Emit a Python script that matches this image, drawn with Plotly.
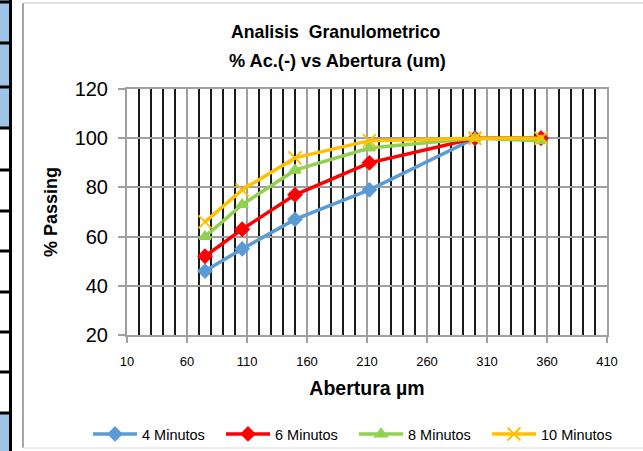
import plotly.graph_objects as go

# ---- data ----
abertura = [75, 106, 150, 212, 300, 355]
min4 = [46, 55, 67, 79, 100, 100]
min6 = [52, 63, 77, 90, 100, 100]
min8 = [60, 73, 87, 96, 100, 99]
min10 = [66, 79, 92, 99, 100, 100]
series_names = ["4 Minutos", "6 Minutos", "8 Minutos", "10 Minutos"]
colors = ["#5b9bd5", "#ff0000", "#92d050", "#ffc000"]
symbols = ["diamond", "diamond", "triangle-up", "x-thin"]

W, H = 643, 451
L, R, T, B = 127, 36, 89, 116
FONT = "Liberation Sans Narrow, Arial Narrow, Liberation Sans, sans-serif"

fig = go.Figure()
for name, ys, c, s in zip(series_names, [min4, min6, min8, min10], colors, symbols):
    fig.add_trace(go.Scatter(
        x=abertura, y=ys, name=name, mode="lines+markers",
        line=dict(color=c, width=3.5),
        marker=dict(symbol=s, size=10 if s != "x-thin" else 13, color=c,
                    line=dict(color=c, width=2)),
    ))

pw = W - L - R
ph = H - T - B
def px(x):
    return (x - L) / pw
def py(y):
    return (H - B - y) / ph

shapes = []
# spreadsheet strip at left
blue = "#9dc3e6"
shapes.append(dict(type="rect", xref="paper", yref="paper", x0=px(0), x1=px(11), y0=py(0), y1=py(128),
                   fillcolor=blue, line=dict(width=0), layer="below"))
shapes.append(dict(type="rect", xref="paper", yref="paper", x0=px(0), x1=px(11), y0=py(413), y1=py(451),
                   fillcolor=blue, line=dict(width=0), layer="below"))
for yy in [2, 43, 87, 128, 170, 211, 251, 292, 332, 372, 413]:
    shapes.append(dict(type="line", xref="paper", yref="paper", x0=px(0), x1=px(11), y0=py(yy), y1=py(yy),
                       line=dict(color="black", width=3)))
shapes.append(dict(type="line", xref="paper", yref="paper", x0=px(10.5), x1=px(10.5), y0=py(0), y1=py(451),
                   line=dict(color="black", width=3)))
# chart area border
shapes.append(dict(type="line", xref="paper", yref="paper", x0=px(23), x1=px(23), y0=py(3), y1=py(448),
                   line=dict(color="#a6a6a6", width=2)))
shapes.append(dict(type="line", xref="paper", yref="paper", x0=px(23), x1=px(643), y0=py(3), y1=py(3),
                   line=dict(color="#d9d9d9", width=1.5)))
shapes.append(dict(type="line", xref="paper", yref="paper", x0=px(23), x1=px(643), y0=py(448), y1=py(448),
                   line=dict(color="#e6e6e6", width=1.5)))

annotations = [
    dict(text="<b>Analisis  Granulometrico</b>", xref="paper", yref="paper", x=px(336), y=py(32),
         showarrow=False, font=dict(family=FONT, size=17.7, color="black"), xanchor="center", yanchor="middle"),
    dict(text="<b>% Ac.(-) vs Abertura (um)</b>", xref="paper", yref="paper", x=px(337), y=py(61),
         showarrow=False, font=dict(family=FONT, size=18.2, color="black"), xanchor="center", yanchor="middle"),
]

fig.update_layout(
    width=W, height=H,
    margin=dict(l=L, r=R, t=T, b=B, autoexpand=False),
    paper_bgcolor="white", plot_bgcolor="white",
    font=dict(family=FONT, color="black"),
    shapes=shapes, annotations=annotations,
    showlegend=True,
    legend=dict(orientation="h", xref="paper", yref="paper",
                x=px(88), y=py(418), xanchor="left", yanchor="top",
                font=dict(family=FONT, size=14.5, color="black"),
                entrywidth=74, entrywidthmode="pixels", itemwidth=44, tracegroupgap=0,
                bgcolor="rgba(0,0,0,0)"),
)
fig.update_xaxes(
    range=[10, 410], tick0=10, dtick=50, tickmode="linear",
    showgrid=True, gridcolor="#a0a0a0", gridwidth=2,
    minor=dict(tick0=10, dtick=10, showgrid=True, gridcolor="#1a1a1a", gridwidth=2, ticks=""),
    showline=True, linecolor="#a0a0a0", linewidth=2, mirror=True,
    ticks="outside", ticklen=6, tickcolor="#a0a0a0", tickwidth=2,
    tickfont=dict(family=FONT, size=13, color="black"), ticklabelstandoff=7,
    title=dict(text="<b>Abertura µm</b>", font=dict(family=FONT, size=19.5, color="black"), standoff=14),
    zeroline=False,
)
fig.update_yaxes(
    range=[20, 120], tick0=20, dtick=20, tickmode="linear",
    showgrid=True, gridcolor="#a0a0a0", gridwidth=2,
    showline=True, linecolor="#a0a0a0", linewidth=2, mirror=True,
    ticks="outside", ticklen=7, tickcolor="#a0a0a0", tickwidth=2,
    tickfont=dict(family=FONT, size=20, color="black"), ticklabelstandoff=6,
    title=dict(text="<b>% Passing</b>", font=dict(family=FONT, size=18, color="black"), standoff=12),
    zeroline=False,
)

fig.write_html("out.html")
